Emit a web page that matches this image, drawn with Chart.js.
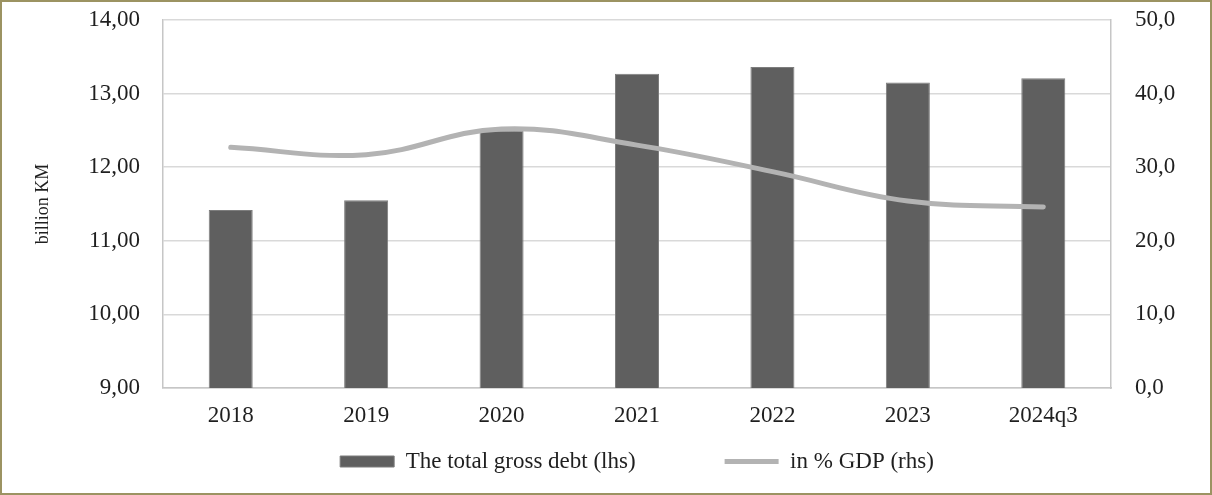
<!DOCTYPE html>
<html>
<head>
<meta charset="utf-8">
<title>Total gross debt</title>
<script src="https://cdn.jsdelivr.net/npm/chart.js@4.4.1/dist/chart.umd.min.js"></script>
<style>
  html, body { margin: 0; padding: 0; background: #fff; }
  .frame { width: 1212px; height: 495px; box-sizing: border-box; border: 2px solid #9c9362; }
  .frame canvas { display: block; }
</style>
</head>
<body>
<div class="frame"><canvas id="debtChart" width="1208" height="491"></canvas></div>
<script>
// years on the x axis
const years = ['2018', '2019', '2020', '2021', '2022', '2023', '2024q3'];
// total gross debt, billion KM (left axis)
const grossDebt = [11.42, 11.55, 12.50, 13.27, 13.36, 13.15, 13.21];
// gross debt as % of GDP (right axis)
const debtToGdp = [32.7, 31.7, 35.2, 33.0, 29.4, 25.4, 24.6];
// axis ticks
const lhsTicks = [9, 10, 11, 12, 13, 14];
const rhsTicks = [0, 10, 20, 30, 40, 50];

Chart.defaults.font.family = "'Liberation Serif', 'Times New Roman', serif";
Chart.defaults.color = '#1f1f1f';

const gridColor = '#d9d9d9';
const frameColor = '#c6c6c6';

// keep the plot area fixed: no extra room for half tick labels
function fixVertical(width) {
    return (scale) => {
        scale.width = width;
        scale.paddingTop = 0;
        scale.paddingBottom = 0;
    };
}

const ctx = document.getElementById('debtChart').getContext('2d');
const debtChart = new Chart(ctx, {
    type: 'bar',
    data: {
        labels: years,
        datasets: [
            {
                label: 'The total gross debt (lhs)',
                data: grossDebt,
                yAxisID: 'y',
                backgroundColor: '#5f5f5f',
                borderColor: '#7d7d7d',
                borderWidth: 1,
                barPercentage: 0.325,
                categoryPercentage: 1,
                pointStyle: 'rect',
                order: 1
            },
            {
                type: 'line',
                label: 'in % GDP (rhs)',
                data: debtToGdp,
                yAxisID: 'y1',
                borderColor: '#b3b3b3',
                backgroundColor: '#b3b3b3',
                borderWidth: 5,
                borderCapStyle: 'round',
                tension: 0.4,
                pointRadius: 0,
                pointStyle: 'line',
                order: 0
            }
        ]
    },
    options: {
        responsive: false,
        animation: false,
        layout: {
            padding: { top: 18, bottom: 10, left: 0, right: 0 }
        },
        plugins: {
            tooltip: { enabled: false },
            legend: {
                position: 'bottom',
                fullSize: false,
                labels: {
                    usePointStyle: true,
                    pointStyleWidth: 54,
                    boxHeight: 11,
                    padding: 20,
                    font: { size: 23 },
                    sort: (a, b) => a.datasetIndex - b.datasetIndex,
                    // wider gap after the bar entry
                    generateLabels: (chart) => {
                        const items = Chart.defaults.plugins.legend.labels.generateLabels(chart);
                        items.forEach((item) => {
                            if (item.datasetIndex === 0) item.text += '\u2003\u2003\u2003';
                        });
                        return items;
                    }
                }
            }
        },
        scales: {
            x: {
                offset: true,
                grid: { display: false, drawTicks: false },
                border: { color: frameColor, width: 1.5 },
                ticks: { padding: 14, font: { size: 23 } },
                afterFit: (scale) => { scale.height = 42; }
            },
            y: {
                position: 'left',
                min: lhsTicks[0],
                max: lhsTicks[lhsTicks.length - 1],
                afterBuildTicks: (scale) => { scale.ticks = lhsTicks.map(v => ({ value: v })); },
                grid: { color: gridColor, lineWidth: 1.5, drawTicks: false },
                border: { color: frameColor, width: 1.5 },
                ticks: {
                    padding: 23,
                    font: { size: 23 },
                    callback: (v) => v.toFixed(2).replace('.', ',')
                },
                title: {
                    display: true,
                    text: 'billion KM',
                    font: { size: 18 },
                    padding: { top: 30, bottom: 0 }
                },
                afterFit: fixVertical(161)
            },
            y1: {
                position: 'right',
                min: rhsTicks[0],
                max: rhsTicks[rhsTicks.length - 1],
                afterBuildTicks: (scale) => { scale.ticks = rhsTicks.map(v => ({ value: v })); },
                grid: { display: false, drawTicks: false },
                border: { color: frameColor, width: 1.5 },
                ticks: {
                    padding: 24,
                    font: { size: 23 },
                    callback: (v) => v.toFixed(1).replace('.', ',')
                },
                afterFit: fixVertical(99)
            }
        }
    }
});
</script>
</body>
</html>
